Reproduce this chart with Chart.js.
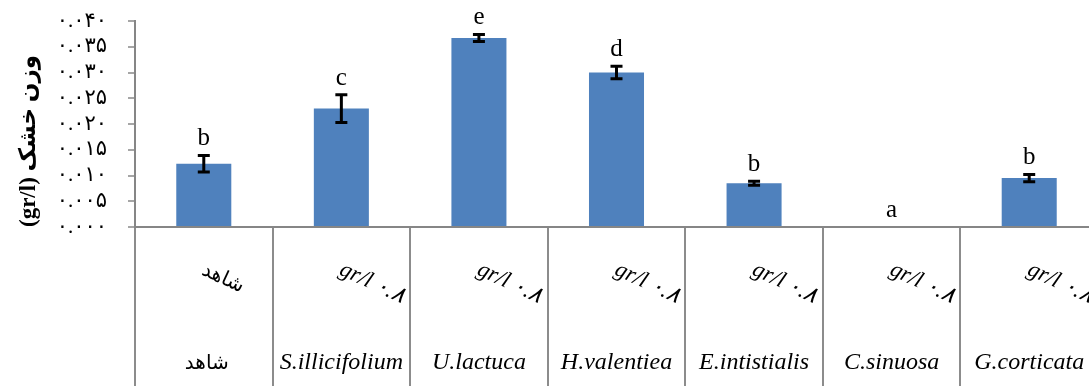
<!DOCTYPE html>
<html>
<head>
<meta charset="utf-8">
<script src="https://cdn.jsdelivr.net/npm/chart.js@4.4.1/dist/chart.umd.min.js"></script>
<style>
  html, body { margin: 0; padding: 0; background: #fff; overflow: hidden; }
  #wrap { width: 1098px; height: 386px; position: relative; }
</style>
</head>
<body>
<div id="wrap"><canvas id="dryChart"></canvas></div>
<script>
// species (bottom row of the x axis)
var species = ['شاهد', 'S.illicifolium', 'U.lactuca', 'H.valentiea', 'E.intistialis', 'C.sinuosa', 'G.corticata'];
// dose (upper, slanted row of the x axis)
var doses = ['شاهد', 'gr/l ۰.۸', 'gr/l ۰.۸', 'gr/l ۰.۸', 'gr/l ۰.۸', 'gr/l ۰.۸', 'gr/l ۰.۸'];
// dry weight (gr/l) and its error
var dryWeight = [0.0123, 0.0230, 0.0367, 0.0300, 0.0085, 0, 0.0095];
var dryError = [0.0016, 0.0027, 0.0007, 0.0012, 0.0004, 0, 0.0007];
// significance letters
var groups = ['b', 'c', 'e', 'd', 'b', 'a', 'b'];
// y tick labels
var yTicks = ['۰.۰۰۰', '۰.۰۰۵', '۰.۰۱۰', '۰.۰۱۵', '۰.۰۲۰', '۰.۰۲۵', '۰.۰۳۰', '۰.۰۳۵', '۰.۰۴۰'];
var yStep = 0.005;

var SERIF = "'Liberation Serif', 'Times New Roman', 'DejaVu Sans', serif";

// error bars, letters and the two rows of category labels
var extrasPlugin = {
  id: 'extras',
  afterDatasetsDraw: function (chart) {
    var ctx = chart.ctx;
    var x = chart.scales.x, y = chart.scales.y;
    ctx.save();

    // error bars
    ctx.strokeStyle = '#000';
    ctx.lineWidth = 3;
    dryWeight.forEach(function (v, i) {
      var e = dryError[i];
      if (!e) return;
      var cx = x.getPixelForValue(i);
      var top = y.getPixelForValue(v + e);
      var bot = y.getPixelForValue(v - e);
      ctx.beginPath();
      ctx.moveTo(cx, top); ctx.lineTo(cx, bot);
      ctx.moveTo(cx - 6, top); ctx.lineTo(cx + 6, top);
      ctx.moveTo(cx - 6, bot); ctx.lineTo(cx + 6, bot);
      ctx.stroke();
    });

    // letters above bars
    ctx.fillStyle = '#000';
    ctx.font = '25px ' + SERIF;
    ctx.textAlign = 'center';
    ctx.textBaseline = 'alphabetic';
    groups.forEach(function (g, i) {
      var cx = x.getPixelForValue(i);
      var yy = y.getPixelForValue(dryWeight[i] + dryError[i]) - 10;
      ctx.fillText(g, cx, yy);
    });

    // slanted dose labels
    doses.forEach(function (d, i) {
      var cx = x.getPixelForValue(i);
      ctx.save();
      ctx.translate(cx - 3, x.top + 47);
      ctx.rotate(25 * Math.PI / 180);
      ctx.textAlign = 'left';
      ctx.font = (i === 0 ? '20px ' : 'italic 23px ') + SERIF;
      ctx.fillText(d, 0, 0);
      ctx.restore();
    });

    // species labels
    ctx.textAlign = 'center';
    species.forEach(function (s, i) {
      var cx = x.getPixelForValue(i);
      ctx.font = (i === 0 ? '20px ' : 'italic 24px ') + SERIF;
      ctx.fillText(s, cx + (i === 0 ? 3 : 0), x.top + 142);
    });

    ctx.restore();
  }
};

var ctx = document.getElementById('dryChart').getContext('2d');
var dryChart = new Chart(ctx, {
  type: 'bar',
  data: {
    labels: species,
    datasets: [{
      label: 'وزن خشک',
      data: dryWeight,
      backgroundColor: '#4F81BD',
      borderWidth: 0,
      categoryPercentage: 0.4,
      barPercentage: 1
    }]
  },
  options: {
    responsive: true,
    maintainAspectRatio: false,
    animation: false,
    layout: { padding: { top: 21, right: 0, bottom: 0, left: 0 } },
    plugins: {
      legend: { display: false },
      tooltip: { enabled: false }
    },
    scales: {
      x: {
        offset: true,
        grid: {
          offset: true,
          drawOnChartArea: false,
          drawTicks: true,
          tickLength: 159,
          color: '#8c8c8c',
          lineWidth: 2
        },
        border: { display: true, color: '#868686', width: 2 },
        ticks: { display: false }
      },
      y: {
        min: 0,
        max: yStep * (yTicks.length - 1),
        afterFit: function (scale) {
          scale.width = 135;
          scale.paddingTop = 0;
          scale.paddingBottom = 0;
        },
        afterBuildTicks: function (scale) {
          scale.ticks = yTicks.map(function (t, i) { return { value: i * yStep }; });
        },
        grid: {
          drawOnChartArea: false,
          tickLength: 7,
          color: '#a6a6a6',
          lineWidth: 2
        },
        border: { display: true, color: '#868686', width: 2 },
        ticks: {
          autoSkip: false,
          padding: 21,
          color: '#000',
          font: { family: SERIF, size: 21 },
          callback: function (value, index) { return yTicks[index]; }
        },
        title: {
          display: true,
          text: '(gr/l) وزن خشک',
          align: 'start',
          color: '#000',
          font: { family: SERIF, size: 23, weight: 'bold' },
          padding: { top: 15, bottom: 0 }
        }
      }
    }
  },
  plugins: [extrasPlugin]
});
</script>
</body>
</html>
